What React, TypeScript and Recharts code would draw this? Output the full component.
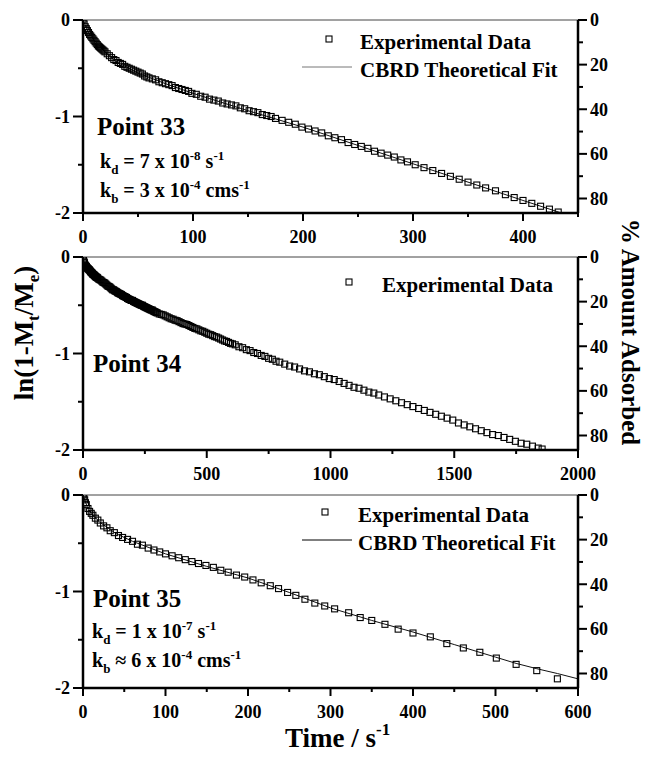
import React from 'react';
import { ComposedChart, Scatter, Line, XAxis, YAxis, ReferenceLine } from 'recharts';

// Point 33 experimental data [t (s), ln(1-Mt/Me)]
const p33Exp: [number, number][] = [
  [0, 0], [1, -0.04], [2, -0.07], [3, -0.09], [4, -0.11], [5, -0.13], [6, -0.15], [7, -0.165],
  [8, -0.18], [9, -0.195], [10, -0.21], [11, -0.225], [12, -0.24], [13, -0.255], [14, -0.27],
  [15, -0.28], [16, -0.29], [17, -0.3], [18, -0.31], [19, -0.32], [20, -0.33], [22, -0.35],
  [24, -0.37], [26, -0.39], [28, -0.41], [30, -0.42], [32, -0.44], [34, -0.45], [36, -0.46],
  [38, -0.48], [40, -0.49], [42, -0.5], [44, -0.51], [46, -0.52], [48, -0.53], [50, -0.54],
  [52, -0.55], [54, -0.56], [56, -0.58], [58, -0.59], [60, -0.6], [63, -0.61], [66, -0.62],
  [69, -0.64], [72, -0.65], [75, -0.66], [78, -0.67], [81, -0.68], [84, -0.7], [87, -0.71],
  [90, -0.72], [93, -0.73], [96, -0.74], [99, -0.76], [103, -0.77], [107, -0.79], [111, -0.8],
  [115, -0.82], [119, -0.83], [123, -0.84], [127, -0.86], [131, -0.87], [135, -0.88], [139, -0.89],
  [143, -0.91], [147, -0.92], [151, -0.94], [155, -0.95], [159, -0.96], [163, -0.98], [167, -0.99],
  [171, -1.0], [175, -1.02], [181, -1.04], [187, -1.06], [193, -1.08], [199, -1.11], [205, -1.13],
  [211, -1.15], [217, -1.17], [223, -1.2], [229, -1.22], [235, -1.24], [241, -1.27], [247, -1.29],
  [253, -1.31], [259, -1.33], [265, -1.36], [271, -1.38], [277, -1.4], [283, -1.42], [289, -1.45],
  [295, -1.47], [302, -1.5], [310, -1.53], [318, -1.56], [326, -1.59], [334, -1.62], [342, -1.65],
  [350, -1.68], [358, -1.71], [366, -1.74], [375, -1.77], [384, -1.81], [392, -1.84], [400, -1.87],
  [408, -1.9], [416, -1.93], [424, -1.96], [432, -1.99],
];
const p33Fit: [number, number][] = [
  [0, 0], [5, -0.13], [10, -0.21], [20, -0.33], [30, -0.43], [50, -0.55], [75, -0.66], [100, -0.76],
  [150, -0.94], [200, -1.11], [250, -1.3], [300, -1.49], [350, -1.68], [400, -1.87], [435, -2.0],
];

// Point 34 experimental data
const p34Exp: [number, number][] = [
  [0, 0], [2, -0.03], [4, -0.05], [6, -0.06], [8, -0.08], [10, -0.09], [12, -0.095], [14, -0.1],
  [16, -0.11], [18, -0.115], [20, -0.12], [22, -0.125], [24, -0.13], [26, -0.135], [28, -0.14],
  [30, -0.15], [32, -0.155], [34, -0.16], [36, -0.165], [38, -0.17], [40, -0.18], [42, -0.18],
  [44, -0.185], [46, -0.19], [48, -0.195], [50, -0.2], [52, -0.205], [54, -0.21], [56, -0.21],
  [58, -0.215], [60, -0.22], [64, -0.23], [68, -0.235], [72, -0.24], [76, -0.25], [80, -0.26],
  [84, -0.265], [88, -0.27], [92, -0.28], [96, -0.29], [100, -0.3], [104, -0.305], [108, -0.31],
  [112, -0.32], [116, -0.33], [120, -0.34], [124, -0.34], [128, -0.35], [132, -0.355], [136, -0.36],
  [140, -0.37], [144, -0.375], [148, -0.38], [152, -0.385], [156, -0.39], [160, -0.4], [164, -0.405],
  [168, -0.41], [172, -0.415], [176, -0.42], [180, -0.43], [184, -0.435], [188, -0.44], [192, -0.445],
  [196, -0.45], [200, -0.45], [204, -0.46], [208, -0.465], [212, -0.47], [216, -0.475], [220, -0.48],
  [224, -0.485], [228, -0.49], [232, -0.495], [236, -0.5], [240, -0.5], [244, -0.51], [248, -0.515],
  [252, -0.52], [256, -0.525], [260, -0.53], [264, -0.535], [268, -0.54], [272, -0.545], [276, -0.55],
  [280, -0.55], [284, -0.56], [288, -0.565], [292, -0.57], [296, -0.575], [300, -0.58], [308, -0.59],
  [316, -0.595], [324, -0.6], [332, -0.61], [340, -0.62], [348, -0.63], [356, -0.64], [364, -0.645],
  [372, -0.655], [380, -0.66], [388, -0.67], [396, -0.68], [404, -0.69], [412, -0.695], [420, -0.7],
  [428, -0.71], [436, -0.72], [444, -0.73], [452, -0.74], [460, -0.745], [468, -0.755], [476, -0.765],
  [484, -0.77], [492, -0.78], [500, -0.79], [508, -0.8], [516, -0.805], [524, -0.815], [532, -0.825],
  [540, -0.83], [548, -0.84], [556, -0.85], [564, -0.86], [572, -0.87], [580, -0.875], [588, -0.885],
  [596, -0.895], [604, -0.9], [615, -0.91], [630, -0.93], [645, -0.94], [660, -0.96], [675, -0.97],
  [690, -0.99], [705, -1.0], [720, -1.02], [735, -1.03], [750, -1.05], [765, -1.06], [780, -1.08],
  [795, -1.09], [815, -1.11], [835, -1.13], [855, -1.14], [875, -1.16], [895, -1.18], [915, -1.19],
  [935, -1.21], [955, -1.22], [975, -1.24], [995, -1.26], [1015, -1.27], [1035, -1.29], [1055, -1.31],
  [1075, -1.33], [1095, -1.35], [1115, -1.36], [1135, -1.38], [1155, -1.4], [1175, -1.41],
  [1195, -1.43], [1218, -1.45], [1241, -1.47], [1264, -1.49], [1287, -1.51], [1310, -1.53],
  [1333, -1.55], [1356, -1.57], [1379, -1.59], [1402, -1.61], [1425, -1.63], [1448, -1.65],
  [1471, -1.67], [1494, -1.69], [1517, -1.72], [1540, -1.74], [1563, -1.76], [1586, -1.78],
  [1609, -1.8], [1632, -1.82], [1655, -1.84], [1678, -1.85], [1701, -1.87], [1724, -1.89],
  [1747, -1.91], [1770, -1.93], [1793, -1.94], [1816, -1.96], [1839, -1.98], [1855, -1.99],
];

// Point 35 experimental data + fit
const p35Exp: [number, number][] = [
  [0, 0], [1, -0.02], [2, -0.05], [3, -0.08], [4, -0.1], [6, -0.14], [8, -0.17], [10, -0.19],
  [12, -0.21], [15, -0.24], [18, -0.26], [21, -0.29], [25, -0.32], [29, -0.34], [33, -0.37],
  [38, -0.39], [43, -0.42], [48, -0.44], [54, -0.46], [60, -0.48], [66, -0.51], [72, -0.52],
  [79, -0.55], [86, -0.57], [93, -0.59], [100, -0.61], [108, -0.63], [116, -0.65], [124, -0.67],
  [132, -0.69], [140, -0.71], [149, -0.73], [158, -0.75], [167, -0.78], [176, -0.8], [186, -0.83],
  [196, -0.85], [206, -0.88], [216, -0.91], [227, -0.94], [237, -0.97], [248, -1.01], [258, -1.04],
  [269, -1.08], [281, -1.12], [293, -1.15], [305, -1.18], [322, -1.22], [336, -1.27], [350, -1.3],
  [366, -1.34], [382, -1.39], [400, -1.43], [421, -1.47], [441, -1.54], [461, -1.585], [481, -1.63],
  [501, -1.69], [525, -1.755], [550, -1.82], [575, -1.905],
];
const p35Fit: [number, number][] = [
  [0, 0], [5, -0.12], [10, -0.19], [20, -0.28], [40, -0.4], [60, -0.48], [100, -0.61], [150, -0.74],
  [200, -0.86], [250, -1.01], [300, -1.17], [350, -1.3], [400, -1.42], [450, -1.55], [500, -1.68],
  [525, -1.745], [550, -1.8], [575, -1.85], [600, -1.905],
];

const lnTicks = [-2, -1.5, -1, -0.5, 0];
const pctTicks = [0, 10, 20, 30, 40, 50, 60, 70, 80];

const FONT = '"Liberation Serif", "Times New Roman", serif';

const toRows = (arr: [number, number][]) => arr.map(([t, v]) => ({ t, v }));

const renderSquare = (p: any) => (
  <rect x={p.cx - 3} y={p.cy - 3} width={6} height={6} fill="none" stroke="#000" strokeWidth={1.1} />
);

const bottomTick = (majorStep: number) => (props: any) => {
  const { x, y, payload } = props;
  const major = payload.value % majorStep === 0;
  return (
    <g>
      <line x1={x} x2={x} y1={y} y2={y + (major ? 8 : 4)} stroke="#000" strokeWidth={2} />
      {major && (
        <text x={x} y={y + 30} textAnchor="middle" fontFamily={FONT} fontWeight="bold" fontSize={18} fill="#000">
          {payload.value}
        </text>
      )}
    </g>
  );
};

const leftTick = (props: any) => {
  const { x, y, payload } = props;
  const major = Number.isInteger(payload.value);
  return (
    <g>
      <line x1={x - (major ? 10 : 5)} x2={x} y1={y} y2={y} stroke="#000" strokeWidth={2} />
      {major && (
        <text x={x - 13} y={y} dy="0.35em" textAnchor="end" fontFamily={FONT} fontWeight="bold" fontSize={18} fill="#000">
          {payload.value}
        </text>
      )}
    </g>
  );
};

const rightTick = (props: any) => {
  const { x, y, payload } = props;
  const major = payload.value % 20 === 0;
  return (
    <g>
      <line x1={x} x2={x + (major ? 9 : 5)} y1={y} y2={y} stroke="#000" strokeWidth={2} />
      {major && (
        <text x={x + 12} y={y} dy="0.35em" textAnchor="start" fontFamily={FONT} fontWeight="bold" fontSize={18} fill="#000">
          {payload.value}
        </text>
      )}
    </g>
  );
};

interface PanelProps {
  top: number;
  exp: [number, number][];
  fit?: [number, number][];
  xMax: number;
  xTicks: number[];
  majorStep: number;
}

const Panel = ({ top, exp, fit, xMax, xTicks, majorStep }: PanelProps) => (
  <div style={{ position: 'absolute', left: 0, top }}>
    <ComposedChart width={645} height={243} margin={{ top: 10, right: 0, bottom: 0, left: 0 }}>
      <XAxis
        type="number"
        dataKey="t"
        domain={[0, xMax]}
        ticks={xTicks}
        interval={0}
        allowDataOverflow
        height={40}
        tickSize={0}
        tickMargin={0}
        tickLine={false}
        axisLine={{ stroke: '#000', strokeWidth: 2.5 }}
        tick={bottomTick(majorStep)}
      />
      <YAxis
        type="number"
        dataKey="v"
        domain={[-2, 0]}
        ticks={lnTicks}
        interval={0}
        allowDataOverflow
        width={83}
        tickSize={0}
        tickMargin={0}
        tickLine={false}
        axisLine={{ stroke: '#000', strokeWidth: 2.5 }}
        tick={leftTick}
      />
      <YAxis
        yAxisId="pct"
        orientation="right"
        type="number"
        domain={[0, 86.5]}
        reversed
        ticks={pctTicks}
        interval={0}
        allowDataOverflow
        width={67}
        tickSize={0}
        tickMargin={0}
        tickLine={false}
        axisLine={{ stroke: '#000', strokeWidth: 2.5 }}
        tick={rightTick}
      />
      <ReferenceLine y={0} stroke="#444" strokeWidth={1} />
      {fit && (
        <Line
          data={toRows(fit)}
          dataKey="v"
          type="linear"
          stroke="#111"
          strokeWidth={1}
          dot={false}
          isAnimationActive={false}
        />
      )}
      <Scatter data={toRows(exp)} dataKey="v" shape={renderSquare} isAnimationActive={false} />
    </ComposedChart>
  </div>
);

const T = { fontFamily: FONT, fontWeight: 'bold' as const, fill: '#000' };

const Legend = ({ sx, sy, tx, ty, fitY, lineY, lineColor }: any) => (
  <g>
    <rect x={sx - 3} y={sy - 3} width={6} height={6} fill="none" stroke="#000" strokeWidth={1.1} />
    <text x={tx} y={ty} fontSize={21} {...T}>Experimental Data</text>
    {fitY !== undefined && (
      <>
        <line x1={302} x2={352} y1={lineY} y2={lineY} stroke={lineColor} strokeWidth={1} />
        <text x={tx} y={fitY} fontSize={21} {...T}>CBRD Theoretical Fit</text>
      </>
    )}
  </g>
);

const Rates = ({ x, y, kd, kdExp, kb, kbExp, approx }: any) => (
  <g>
    <text x={x} y={y} fontSize={20} {...T}>
      k<tspan fontSize={13} dy={6}>d</tspan>
      <tspan dy={-6}>{` = ${kd} x 10`}</tspan>
      <tspan fontSize={13} dy={-8}>{kdExp}</tspan>
      <tspan dy={8}> s</tspan>
      <tspan fontSize={13} dy={-8}>-1</tspan>
    </text>
    <text x={x} y={y + 29} fontSize={20} {...T}>
      k<tspan fontSize={13} dy={6}>b</tspan>
      <tspan dy={-6}>{` ${approx ? '\u2248' : '='} ${kb} x 10`}</tspan>
      <tspan fontSize={13} dy={-8}>{kbExp}</tspan>
      <tspan dy={8}> cms</tspan>
      <tspan fontSize={13} dy={-8}>-1</tspan>
    </text>
  </g>
);

export default function App() {
  return (
    <div style={{ position: 'absolute', left: 0, top: 0, width: 645, height: 757, background: '#fff' }}>
      <Panel top={10} exp={p33Exp} fit={p33Fit} xMax={450} xTicks={[0, 50, 100, 150, 200, 250, 300, 350, 400, 450]} majorStep={100} />
      <Panel top={247} exp={p34Exp} xMax={2000} xTicks={[0, 250, 500, 750, 1000, 1250, 1500, 1750, 2000]} majorStep={500} />
      <Panel top={485} exp={p35Exp} fit={p35Fit} xMax={600} xTicks={[0, 50, 100, 150, 200, 250, 300, 350, 400, 450, 500, 550, 600]} majorStep={100} />
      <svg width={645} height={757} style={{ position: 'absolute', left: 0, top: 0, pointerEvents: 'none' }}>
        <Legend sx={329} sy={39} tx={360} ty={49} fitY={77} lineY={67} lineColor="#777" />
        <Legend sx={349} sy={282} tx={382} ty={292} />
        <Legend sx={325} sy={512} tx={358} ty={522} fitY={550} lineY={540} lineColor="#000" />

        <text x={97} y={135} fontSize={25} {...T}>Point 33</text>
        <Rates x={100} y={168} kd="7" kdExp="-8" kb="3" kbExp="-4" />
        <text x={93} y={372} fontSize={25} {...T}>Point 34</text>
        <text x={93} y={607} fontSize={25} {...T}>Point 35</text>
        <Rates x={92} y={638} kd="1" kdExp="-7" kb="6" kbExp="-4" approx />

        <text transform="translate(33,333) rotate(-90)" textAnchor="middle" fontSize={27} {...T}>
          ln(1-M<tspan fontSize={17} dy={6}>t</tspan>
          <tspan dy={-6}>/M</tspan>
          <tspan fontSize={17} dy={6}>e</tspan>
          <tspan dy={-6}>)</tspan>
        </text>
        <text transform="translate(622,332) rotate(90)" textAnchor="middle" fontSize={25} {...T}>
          % Amount Adsorbed
        </text>
        <text x={285} y={747} fontSize={27} {...T}>
          Time / s<tspan fontSize={17} dy={-12}>-1</tspan>
        </text>
      </svg>
    </div>
  );
}
